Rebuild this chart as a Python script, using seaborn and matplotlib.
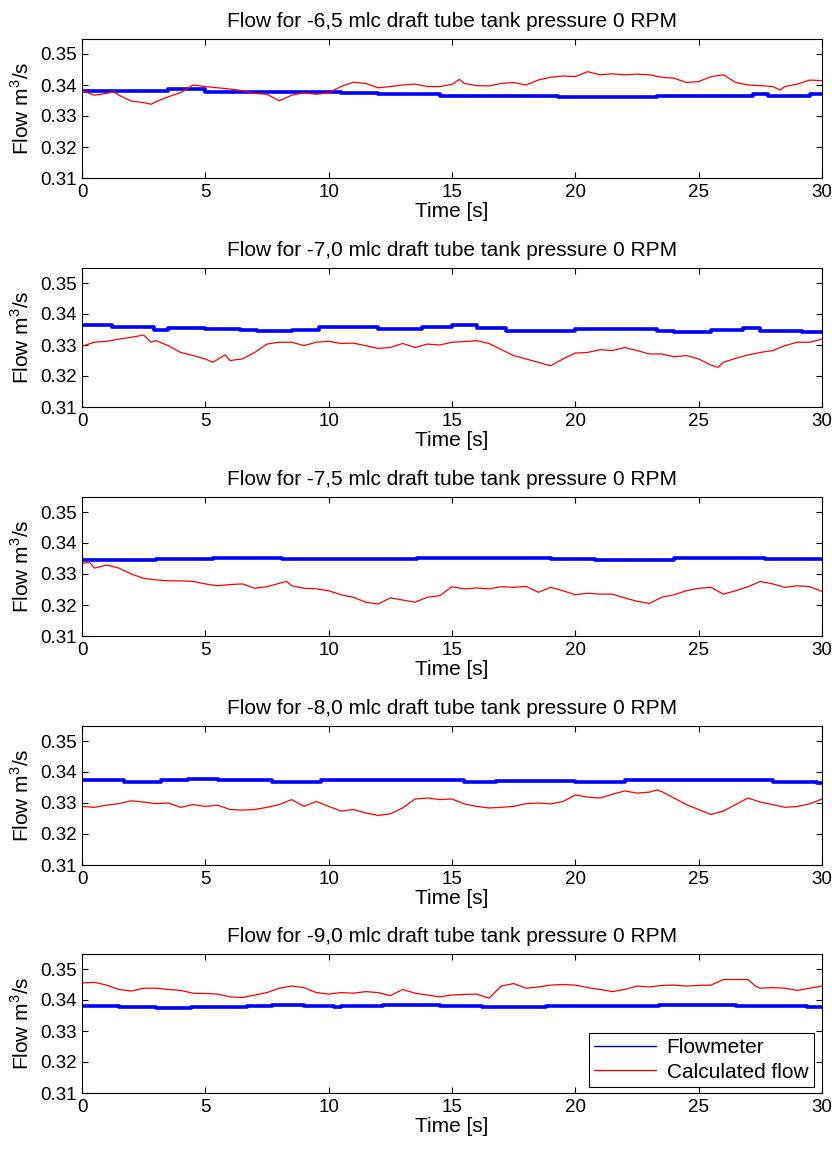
import numpy as np
import pandas as pd
import seaborn as sns
import matplotlib
matplotlib.use("Agg")
import matplotlib.pyplot as plt
from matplotlib import font_manager

# ---------------- data ----------------
titles = [
    "Flow for -6,5 mlc draft tube tank pressure 0 RPM",
    "Flow for -7,0 mlc draft tube tank pressure 0 RPM",
    "Flow for -7,5 mlc draft tube tank pressure 0 RPM",
    "Flow for -8,0 mlc draft tube tank pressure 0 RPM",
    "Flow for -9,0 mlc draft tube tank pressure 0 RPM",
]

# Calculated flow (red) – time stamps and values per panel
calc_t1 = [0, 0.5, 1, 1.3, 1.5, 2, 2.5, 2.8, 3, 3.5, 4, 4.5, 5, 5.5, 6, 6.5, 7, 7.5, 8, 8.5, 9, 9.5, 10,
           10.5, 11, 11.5, 12, 12.5, 13, 13.5, 14, 14.5, 15, 15.3, 15.5, 16, 16.5, 17, 17.5, 18, 18.5, 19,
           19.5, 20, 20.5, 21, 21.5, 22, 22.5, 23, 23.5, 24, 24.5, 25, 25.5, 26, 26.5, 27, 27.5, 28, 28.3,
           28.5, 29, 29.5, 30]
calc_v1 = [0.3382, 0.3367, 0.3373, 0.3378, 0.3367, 0.3348, 0.3343, 0.3338, 0.3346, 0.3362, 0.3375, 0.3400,
           0.3395, 0.3391, 0.3387, 0.3382, 0.3373, 0.3370, 0.3349, 0.3367, 0.3375, 0.3370, 0.3375, 0.3395,
           0.3409, 0.3405, 0.3391, 0.3395, 0.3400, 0.3403, 0.3395, 0.3395, 0.3402, 0.3418, 0.3405, 0.3398,
           0.3397, 0.3405, 0.3408, 0.3400, 0.3416, 0.3425, 0.3429, 0.3427, 0.3443, 0.3433, 0.3436, 0.3433,
           0.3435, 0.3433, 0.3425, 0.3422, 0.3408, 0.3411, 0.3427, 0.3433, 0.3408, 0.3400, 0.3398, 0.3395,
           0.3384, 0.3395, 0.3403, 0.3416, 0.3414]

calc_t2 = [0, 0.5, 1, 1.5, 2, 2.5, 2.8, 3, 3.5, 4, 4.5, 5, 5.3, 5.8, 6, 6.5, 7, 7.5, 8, 8.5, 9, 9.5, 10,
           10.5, 11, 11.5, 12, 12.5, 13, 13.5, 14, 14.5, 15, 15.5, 16, 16.5, 17, 17.5, 18, 18.5, 19, 19.5,
           20, 20.5, 21, 21.5, 22, 22.5, 23, 23.5, 24, 24.5, 25, 25.5, 25.8, 26, 26.5, 27, 27.5, 28, 28.5,
           29, 29.5, 30]
calc_v2 = [0.3296, 0.3309, 0.3312, 0.3319, 0.3325, 0.3332, 0.3309, 0.3314, 0.3298, 0.3276, 0.3266, 0.3255,
           0.3244, 0.3268, 0.3250, 0.3255, 0.3276, 0.3303, 0.3309, 0.3309, 0.3298, 0.3309, 0.3312, 0.3305,
           0.3306, 0.3298, 0.3289, 0.3292, 0.3305, 0.3292, 0.3303, 0.3300, 0.3309, 0.3311, 0.3314, 0.3305,
           0.3285, 0.3266, 0.3255, 0.3244, 0.3233, 0.3255, 0.3274, 0.3276, 0.3285, 0.3282, 0.3292, 0.3282,
           0.3271, 0.3271, 0.3262, 0.3266, 0.3255, 0.3235, 0.3228, 0.3244, 0.3257, 0.3268, 0.3276, 0.3282,
           0.3298, 0.3309, 0.3309, 0.3319]

calc_t3 = [0, 0.3, 0.5, 1, 1.5, 2, 2.5, 3, 3.5, 4, 4.5, 5, 5.5, 6, 6.5, 7, 7.5, 8, 8.3, 8.5, 9, 9.5, 10,
           10.5, 11, 11.5, 12, 12.5, 13, 13.5, 14, 14.5, 15, 15.5, 16, 16.5, 17, 17.5, 18, 18.5, 19, 19.5,
           20, 20.5, 21, 21.5, 22, 22.5, 23, 23.5, 24, 24.5, 25, 25.5, 26, 26.5, 27, 27.5, 28, 28.5, 29,
           29.5, 30]
calc_v3 = [0.3334, 0.3338, 0.3319, 0.3329, 0.3319, 0.3300, 0.3286, 0.3281, 0.3278, 0.3278, 0.3276, 0.3268,
           0.3262, 0.3266, 0.3268, 0.3254, 0.3259, 0.3270, 0.3276, 0.3262, 0.3254, 0.3252, 0.3246, 0.3233,
           0.3225, 0.3209, 0.3203, 0.3223, 0.3216, 0.3209, 0.3225, 0.3230, 0.3259, 0.3252, 0.3255, 0.3252,
           0.3259, 0.3257, 0.3260, 0.3241, 0.3257, 0.3246, 0.3233, 0.3238, 0.3235, 0.3235, 0.3223, 0.3212,
           0.3205, 0.3225, 0.3233, 0.3246, 0.3254, 0.3257, 0.3235, 0.3246, 0.3259, 0.3276, 0.3268, 0.3257,
           0.3262, 0.3259, 0.3244]

calc_t4 = [0, 0.5, 1, 1.5, 2, 2.5, 3, 3.5, 4, 4.5, 5, 5.5, 6, 6.5, 7, 7.5, 8, 8.5, 9, 9.5, 10, 10.5, 11,
           11.5, 12, 12.5, 13, 13.5, 14, 14.5, 15, 15.5, 16, 16.5, 17, 17.5, 18, 18.5, 19, 19.5, 20, 20.5,
           21, 21.5, 22, 22.5, 23, 23.3, 23.5, 24, 24.5, 25, 25.5, 26, 26.5, 27, 27.5, 28, 28.5, 29, 29.5, 30]
calc_v4 = [0.3289, 0.3286, 0.3293, 0.3298, 0.3307, 0.3303, 0.3298, 0.3300, 0.3286, 0.3295, 0.3289, 0.3293,
           0.3279, 0.3277, 0.3279, 0.3286, 0.3295, 0.3311, 0.3289, 0.3305, 0.3289, 0.3274, 0.3279, 0.3268,
           0.3260, 0.3265, 0.3284, 0.3313, 0.3316, 0.3311, 0.3313, 0.3297, 0.3289, 0.3284, 0.3286, 0.3289,
           0.3298, 0.3300, 0.3297, 0.3305, 0.3326, 0.3319, 0.3316, 0.3328, 0.3339, 0.3332, 0.3335, 0.3342,
           0.3337, 0.3316, 0.3295, 0.3279, 0.3263, 0.3274, 0.3295, 0.3316, 0.3303, 0.3295, 0.3286, 0.3289,
           0.3297, 0.3313]

calc_t5 = [0, 0.5, 1, 1.5, 2, 2.5, 3, 3.5, 4, 4.5, 5, 5.5, 6, 6.5, 7, 7.5, 8, 8.5, 9, 9.5, 10, 10.5, 11,
           11.5, 12, 12.5, 13, 13.5, 14, 14.5, 15, 15.5, 16, 16.5, 17, 17.5, 18, 18.5, 19, 19.5, 20, 20.5,
           21, 21.5, 22, 22.5, 23, 23.5, 24, 24.5, 25, 25.5, 26, 26.5, 27, 27.3, 27.5, 28, 28.5, 29, 29.5, 30]
calc_v5 = [0.3455, 0.3457, 0.3448, 0.3434, 0.3429, 0.3438, 0.3438, 0.3434, 0.3431, 0.3422, 0.3421, 0.3419,
           0.3410, 0.3408, 0.3416, 0.3424, 0.3438, 0.3445, 0.3440, 0.3424, 0.3419, 0.3424, 0.3422, 0.3427,
           0.3424, 0.3414, 0.3434, 0.3422, 0.3416, 0.3410, 0.3416, 0.3418, 0.3419, 0.3406, 0.3445, 0.3453,
           0.3438, 0.3442, 0.3448, 0.3450, 0.3448, 0.3440, 0.3434, 0.3427, 0.3434, 0.3445, 0.3442, 0.3447,
           0.3448, 0.3445, 0.3447, 0.3448, 0.3466, 0.3466, 0.3466, 0.3445, 0.3438, 0.3440, 0.3438, 0.3431,
           0.3438, 0.3445]

# Flowmeter (blue) – step levels: start times and values per panel
flow_t1 = [0, 3.5, 5, 10.5, 12, 14.5, 19.3, 23.3, 27.2, 27.8, 29.5, 30]
flow_v1 = [0.3380, 0.3386, 0.3378, 0.3375, 0.3370, 0.3366, 0.3362, 0.3366, 0.3370, 0.3365, 0.3370, 0.3370]

flow_t2 = [0, 1.2, 2.9, 3.5, 5, 6.4, 7.1, 8.5, 9.6, 12, 13.8, 15, 16, 17.2, 18.4, 20, 21.5, 23.3, 24,
           25.5, 26.8, 27.5, 29.2, 30]
flow_v2 = [0.3365, 0.3357, 0.3349, 0.3355, 0.3353, 0.3348, 0.3344, 0.3349, 0.3357, 0.3352, 0.3357, 0.3365,
           0.3355, 0.3346, 0.3344, 0.3352, 0.3353, 0.3346, 0.3343, 0.3349, 0.3354, 0.3346, 0.3341, 0.3341]

flow_t3 = [0, 3, 5.3, 8.1, 13.6, 19, 20.8, 24, 27.7, 30]
flow_v3 = [0.3345, 0.3349, 0.3353, 0.3348, 0.3353, 0.3347, 0.3346, 0.3352, 0.3347, 0.3350]

flow_t4 = [0, 1.7, 3.2, 4.3, 5.5, 7.7, 9.7, 11.3, 15.5, 16.8, 20, 22, 28, 29.8, 30]
flow_v4 = [0.3374, 0.3368, 0.3374, 0.3377, 0.3373, 0.3369, 0.3373, 0.3374, 0.3368, 0.3370, 0.3368, 0.3373,
           0.3368, 0.3363, 0.3363]

flow_t5 = [0, 1.5, 3, 4.4, 6.7, 7.7, 9, 10.2, 10.5, 12.2, 14.5, 16.2, 18.8, 23.4, 26, 26.5, 29.4, 30]
flow_v5 = [0.3381, 0.3377, 0.3375, 0.3377, 0.3381, 0.3385, 0.3382, 0.3377, 0.3382, 0.3385, 0.3381, 0.3377,
           0.3381, 0.3385, 0.3383, 0.3381, 0.3377, 0.3377]

calc_t = [calc_t1, calc_t2, calc_t3, calc_t4, calc_t5]
calc_v = [calc_v1, calc_v2, calc_v3, calc_v4, calc_v5]
flow_t = [flow_t1, flow_t2, flow_t3, flow_t4, flow_t5]
flow_v = [flow_v1, flow_v2, flow_v3, flow_v4, flow_v5]

x_ticks = [0, 5, 10, 15, 20, 25, 30]
y_ticks = [0.31, 0.32, 0.33, 0.34, 0.35]
y_ticklabels = ["0.31", "0.32", "0.33", "0.34", "0.35"]
legend_labels = ["Flowmeter", "Calculated flow"]

# ---------------- style ----------------
sns.set_theme(style="white")
available = {f.name for f in font_manager.fontManager.ttflist}
family = "Liberation Sans Narrow" if "Liberation Sans Narrow" in available else "Liberation Sans"
plt.rcParams["font.family"] = [family, "DejaVu Sans"]
plt.rcParams["mathtext.fontset"] = "custom"
plt.rcParams["mathtext.rm"] = family
plt.rcParams["text.color"] = "black"
plt.rcParams["axes.labelcolor"] = "black"
plt.rcParams["xtick.color"] = "black"
plt.rcParams["ytick.color"] = "black"

W, H = 832, 1149
fig = plt.figure(figsize=(W / 100, H / 100), dpi=100)
fig.patch.set_facecolor("white")

left_px, right_px = 82, 822
bottoms_px = [178, 407, 636, 865, 1093]
height_px = 139.5

for i in range(5):
    b = bottoms_px[i]
    ax = fig.add_axes([left_px / W, 1 - b / H, (right_px - left_px) / W, height_px / H])
    df_flow = pd.DataFrame({"t": flow_t[i], "v": flow_v[i]})
    df_calc = pd.DataFrame({"t": calc_t[i], "v": calc_v[i]})
    sns.lineplot(data=df_flow, x="t", y="v", ax=ax, color="#0000ff", linewidth=2.6,
                 drawstyle="steps-post", estimator=None, sort=False, label=legend_labels[0])
    sns.lineplot(data=df_calc, x="t", y="v", ax=ax, color="#ff0000", linewidth=0.9,
                 estimator=None, sort=False, label=legend_labels[1])
    ax.set_xlim(0, 30)
    ax.set_ylim(0.31, 0.355)
    ax.set_xticks(x_ticks)
    ax.set_xticklabels([str(v) for v in x_ticks])
    ax.set_yticks(y_ticks)
    ax.set_yticklabels(y_ticklabels)
    ax.tick_params(direction="in", length=4, width=0.8, colors="black", labelsize=13.5,
                   top=True, right=True, bottom=True, left=True, pad=4)
    for s in ax.spines.values():
        s.set_color("black")
        s.set_linewidth(0.8)
    ax.set_xlabel("Time [s]", fontsize=15, labelpad=1, color="black")
    ax.set_ylabel("Flow m$^3$/s", fontsize=15, labelpad=5, color="black")
    ax.set_title(titles[i], fontsize=15, pad=8, color="black")
    if i == 4:
        leg = ax.legend(loc="lower right", fontsize=15, frameon=True, fancybox=False,
                        edgecolor="black", framealpha=1, borderpad=0.25, handlelength=3.0,
                        labelspacing=0.25, handletextpad=0.5, borderaxespad=0.3,
                        bbox_to_anchor=(0.997, 0.0))
        leg.get_frame().set_linewidth(0.8)
        for text in leg.get_texts():
            text.set_color("black")
        for line in leg.get_lines():
            line.set_linewidth(1.0)
    else:
        ax.get_legend().remove()

fig.savefig("out.png", dpi=100, facecolor="white")
